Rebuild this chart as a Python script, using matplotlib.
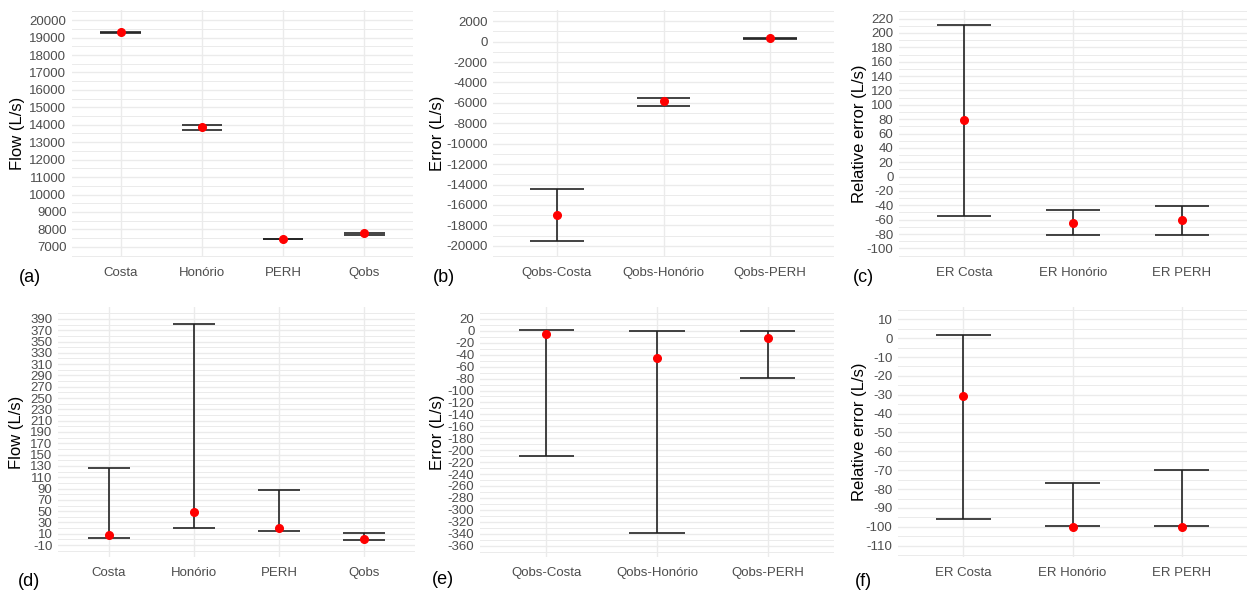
#!/usr/bin/env python3
"""
Six panels of flows / errors with their ranges (min-max) and mean point.
"""
import numpy as np
import matplotlib
matplotlib.use("Agg")
import matplotlib.pyplot as plt
from matplotlib.ticker import FixedLocator

# Panel (a) - flows, wet period
flow_cats = ["Costa", "Honório", "PERH", "Qobs"]
a_mid = [19300, 13850, 7450, 7770]
a_lo = [19280, 13690, 7450, 7680]
a_hi = [19320, 13980, 7480, 7820]
a_ticks = list(range(7000, 20001, 1000))

# Panel (b) - errors
err_cats = ["Qobs-Costa", "Qobs-Honório", "Qobs-PERH"]
b_mid = [-17000, -5850, 330]
b_lo = [-19500, -6350, 300]
b_hi = [-14400, -5480, 380]
b_ticks = list(range(-20000, 2001, 2000))

# Panel (c) - relative errors
rel_cats = ["ER Costa", "ER Honório", "ER PERH"]
c_mid = [79, -64, -60]
c_lo = [-55, -82, -81]
c_hi = [211, -47, -41]
c_ticks = list(range(-100, 221, 20))

# Panel (d) - flows, dry period
d_mid = [8, 49, 21, 0]
d_lo = [3, 20, 15, -1]
d_hi = [126, 381, 87, 12]
d_ticks = list(range(-10, 391, 20))

# Panel (e)
e_mid = [-6, -46, -12]
e_lo = [-210, -338, -79]
e_hi = [2, -1, -1]
e_ticks = list(range(-360, 21, 20))

# Panel (f)
f_mid = [-30.5, -100, -100]
f_lo = [-95.6, -99.5, -99.5]
f_hi = [1.7, -76.8, -70]
f_ticks = list(range(-110, 11, 10))

FIG_W, FIG_H = 1247, 591
TICK_COLOR = "#4D4D4D"
GRID_COLOR = "#EBEBEB"

plt.rcParams["font.family"] = ["Liberation Sans", "DejaVu Sans"]
plt.rcParams["axes.unicode_minus"] = False

fig = plt.figure(figsize=(FIG_W / 100, FIG_H / 100), dpi=100)


def add_panel(left, top, right, bottom):
    """Axes from pixel box."""
    return fig.add_axes([left / FIG_W, 1 - bottom / FIG_H,
                         (right - left) / FIG_W, (bottom - top) / FIG_H])


def draw_panel(ax, cats, mid, lo, hi, ylim, ticks, ylabel, label_x):
    x = np.arange(1, len(cats) + 1)
    ax.set_xlim(0.4, len(cats) + 0.6)
    ax.set_ylim(*ylim)
    step = ticks[1] - ticks[0]
    minor = [t + step / 2 for t in [ticks[0] - step] + ticks]
    ax.yaxis.set_major_locator(FixedLocator(ticks))
    ax.yaxis.set_minor_locator(FixedLocator(minor))
    ax.set_xticks(x)
    ax.set_xticklabels(cats)

    ax.grid(True, which="major", color=GRID_COLOR, lw=1.0)
    ax.grid(True, which="minor", axis="y", color=GRID_COLOR, lw=0.7)
    ax.set_axisbelow(True)
    for s in ax.spines.values():
        s.set_visible(False)
    ax.tick_params(which="both", length=0, labelsize=9.5, colors=TICK_COLOR, pad=4)
    ax.tick_params(axis="x", pad=7)

    # error bars: whisker + caps (width 0.5 as in geom_errorbar)
    ax.vlines(x, lo, hi, color="#222222", lw=1.2, zorder=2)
    ax.hlines(lo, x - 0.25, x + 0.25, color="#222222", lw=1.2, zorder=2)
    ax.hlines(hi, x - 0.25, x + 0.25, color="#222222", lw=1.2, zorder=2)
    ax.plot(x, mid, "o", color="red", ms=5.5, zorder=3)

    ax.set_ylabel(ylabel, fontsize=12, color="black")
    pos = ax.get_position()
    # label anchor is its right edge, so shift by half the text height
    ax.yaxis.set_label_coords(((label_x + 8) / FIG_W - pos.x0) / pos.width, 0.5)
    return ax


def add_tag(text, x, y):
    fig.text(x / FIG_W, 1 - y / FIG_H, text, fontsize=13, ha="center", va="center")


# top row
ax_a = add_panel(72, 10, 413, 257)
draw_panel(ax_a, flow_cats, a_mid, a_lo, a_hi, (6420, 20580), a_ticks, "Flow (L/s)", 17)
ax_b = add_panel(493, 10, 834, 257)
draw_panel(ax_b, err_cats, b_mid, b_lo, b_hi, (-21100, 3100), b_ticks, "Error (L/s)", 437)
ax_c = add_panel(899, 10, 1247, 257)
draw_panel(ax_c, rel_cats, c_mid, c_lo, c_hi, (-112, 232), c_ticks, "Relative error (L/s)", 859)

# bottom row
ax_d = add_panel(58, 307, 415, 557)
draw_panel(ax_d, flow_cats, d_mid, d_lo, d_hi, (-31, 411), d_ticks, "Flow (L/s)", 16)
ax_e = add_panel(480, 307, 834, 557)
draw_panel(ax_e, err_cats, e_mid, e_lo, e_hi, (-379, 40), e_ticks, "Error (L/s)", 437)
ax_f = add_panel(898, 307, 1247, 557)
draw_panel(ax_f, rel_cats, f_mid, f_lo, f_hi, (-116, 16.5), f_ticks, "Relative error (L/s)", 859)

add_tag("(a)", 30, 277)
add_tag("(b)", 444, 277)
add_tag("(c)", 863, 277)
add_tag("(d)", 29, 582)
add_tag("(e)", 443, 580)
add_tag("(f)", 863, 582)

fig.savefig("out.png", dpi=100)
